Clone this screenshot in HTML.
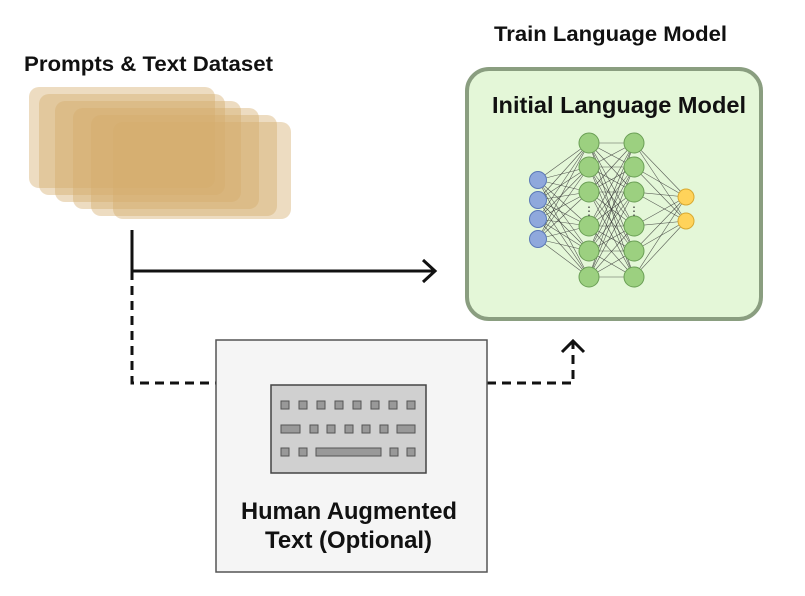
<!DOCTYPE html>
<html><head><meta charset="utf-8"><style>
html,body{margin:0;padding:0;background:#fff;}
svg{display:block;font-family:"Liberation Sans",sans-serif;}
</style></head><body>
<svg id="s" width="805" height="596" viewBox="0 0 805 596" xmlns="http://www.w3.org/2000/svg">
<text x="24" y="71" font-size="21" font-weight="bold" fill="#111" textLength="249" lengthAdjust="spacingAndGlyphs">Prompts &amp; Text Dataset</text>
<text x="494" y="41" font-size="21" font-weight="bold" fill="#111" textLength="233" lengthAdjust="spacingAndGlyphs">Train Language Model</text>
<g fill="#d4ab6c" fill-opacity="0.42">
<rect x="29" y="87" width="186" height="101" rx="10"/>
<rect x="39" y="94" width="186" height="101" rx="10"/>
<rect x="55" y="101" width="186" height="101" rx="10"/>
<rect x="73" y="108" width="186" height="101" rx="10"/>
<rect x="91" y="115" width="186" height="101" rx="10"/>
<rect x="113" y="122" width="178" height="97" rx="10"/>
</g>
<rect x="467" y="69" width="294" height="250" rx="22" fill="#e4f7d8" stroke="#8a9e80" stroke-width="4"/>
<text x="492" y="113" font-size="23" font-weight="bold" fill="#111" textLength="254" lengthAdjust="spacingAndGlyphs">Initial Language Model</text>
<g id="edges" stroke="#333" stroke-width="0.6" stroke-opacity="0.8"></g>
<g id="nodes"></g>
<text x="589" y="215" font-size="12" text-anchor="middle" fill="#333">⋮</text>
<text x="634" y="215" font-size="12" text-anchor="middle" fill="#333">⋮</text>
<g stroke="#111" stroke-width="3" fill="none">
<path d="M132 230 V271 H434"/>
<path d="M423 260 L435 271 L423 282"/>
<path d="M132 271 V383 H216" stroke-dasharray="9,6"/>
<path d="M487 383 H573 V343" stroke-dasharray="9,6"/>
<path d="M562 352 L573 341 L584 352"/>
</g>
<rect x="216" y="340" width="271" height="232" fill="#f5f5f5" stroke="#555" stroke-width="1.5"/>
<rect x="271" y="385" width="155" height="88" fill="#d0d0d0" stroke="#444" stroke-width="1.5"/>
<g fill="#999" stroke="#555" stroke-width="1">
<rect x="281" y="401" width="8" height="8"/><rect x="299" y="401" width="8" height="8"/><rect x="317" y="401" width="8" height="8"/><rect x="335" y="401" width="8" height="8"/><rect x="353" y="401" width="8" height="8"/><rect x="371" y="401" width="8" height="8"/><rect x="389" y="401" width="8" height="8"/><rect x="407" y="401" width="8" height="8"/>
<rect x="281" y="425" width="19" height="8"/><rect x="310" y="425" width="8" height="8"/><rect x="327" y="425" width="8" height="8"/><rect x="345" y="425" width="8" height="8"/><rect x="362" y="425" width="8" height="8"/><rect x="380" y="425" width="8" height="8"/><rect x="397" y="425" width="18" height="8"/>
<rect x="281" y="448" width="8" height="8"/><rect x="299" y="448" width="8" height="8"/><rect x="316" y="448" width="65" height="8"/><rect x="390" y="448" width="8" height="8"/><rect x="407" y="448" width="8" height="8"/>
</g>
<text x="241" y="519" font-size="24" font-weight="bold" fill="#111" textLength="216" lengthAdjust="spacingAndGlyphs">Human Augmented</text>
<text x="265" y="548" font-size="24" font-weight="bold" fill="#111" textLength="167" lengthAdjust="spacingAndGlyphs">Text (Optional)</text>
</svg>
<script>
var NS="http://www.w3.org/2000/svg";
var L0=[180,200,219,239].map(function(y){return[538,y]});
var gy=[143,167,192,226,251,277];
var L1=gy.map(function(y){return[589,y]});
var L2=gy.map(function(y){return[634,y]});
var L3=[[686,197],[686,221]];
var E=document.getElementById("edges"),N=document.getElementById("nodes");
function conn(a,b){a.forEach(function(p){b.forEach(function(q){var l=document.createElementNS(NS,"line");l.setAttribute("x1",p[0]);l.setAttribute("y1",p[1]);l.setAttribute("x2",q[0]);l.setAttribute("y2",q[1]);E.appendChild(l);});});}
conn(L0,L1);conn(L1,L2);conn(L2,L3);
function nodes(a,r,f,s){a.forEach(function(p){var c=document.createElementNS(NS,"circle");c.setAttribute("cx",p[0]);c.setAttribute("cy",p[1]);c.setAttribute("r",r);c.setAttribute("fill",f);c.setAttribute("stroke",s);N.appendChild(c);});}
nodes(L0,8.5,"#8fa8dc","#5a78b8");nodes(L1,10,"#9cd080","#6a9f55");nodes(L2,10,"#9cd080","#6a9f55");nodes(L3,8,"#ffd35a","#d8a930");
</script>
</body></html>
